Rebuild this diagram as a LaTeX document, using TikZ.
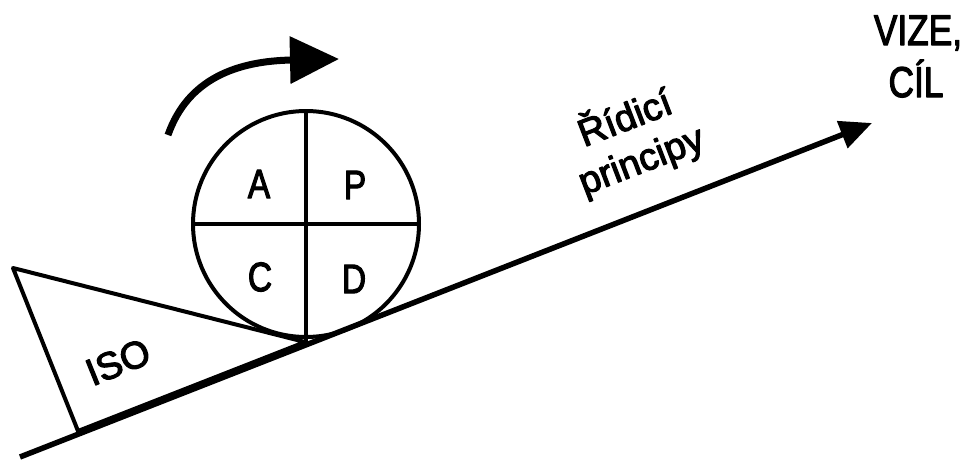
\documentclass[tikz,border=0pt]{standalone}
\usepackage{fontspec}
\setmainfont{Liberation Sans}
\newfontfamily\heavy{Liberation Sans}[FakeBold=3]
\usetikzlibrary{arrows.meta}
\begin{document}
\begin{tikzpicture}[x=1pt,y=-1pt,line join=round,
    txt/.style={font=\fontsize{38}{45}\heavy,inner sep=0pt},
    narrow/.style={font=\fontsize{41}{45}\heavy,inner sep=0pt,xscale=0.82}]
	\useasboundingbox (0,0) rectangle (967,461);
	% wedge
	\draw[line width=4pt] (13,268) -- (78,431) -- (305,342) -- cycle;
	\node[txt,rotate=22] (iso) at (118,362) {ISO};
	% wheel
	\node[circle,draw,fill=white,line width=4pt,minimum size=226pt,inner sep=0pt,outer sep=0pt] (wheel) at (306,224) {};
	\coordinate (touch) at (306,345);
	\draw[line width=4pt] (wheel.north) -- (touch);
	\draw[line width=4pt] (wheel.west) -- (wheel.east);
	\node[narrow] (a) at (259,184) {A};
	\node[narrow] (p) at (355,185) {P};
	\node[narrow] (c) at (260,277) {C};
	\node[narrow] (d) at (354,279) {D};
	% slope
	\coordinate (start) at (20,457);
	\coordinate (goal) at (872,123);
	\draw[line width=5.5pt,-{Triangle[length=32pt,width=28pt]}] (start) -- (goal);
	\node[txt,rotate=21,align=center] (rules) at (633,139) {Řídicí\\principy};
	\node[narrow,font=\fontsize{43}{45}\heavy,anchor=base] (vize) at (918,45) {VIZE,};
	\node[narrow,font=\fontsize{43}{45}\heavy,anchor=base] (cil) at (916,97) {CÍL};
	% turning arrow
	\coordinate (turn) at (168,135);
	\coordinate (ahead) at (339,59);
	\draw[line width=7pt,-{Triangle[length=49pt,width=46pt]}] (turn) .. controls (188,78) and (238,61) .. (292,60) -- (ahead);
\end{tikzpicture}
\end{document}
